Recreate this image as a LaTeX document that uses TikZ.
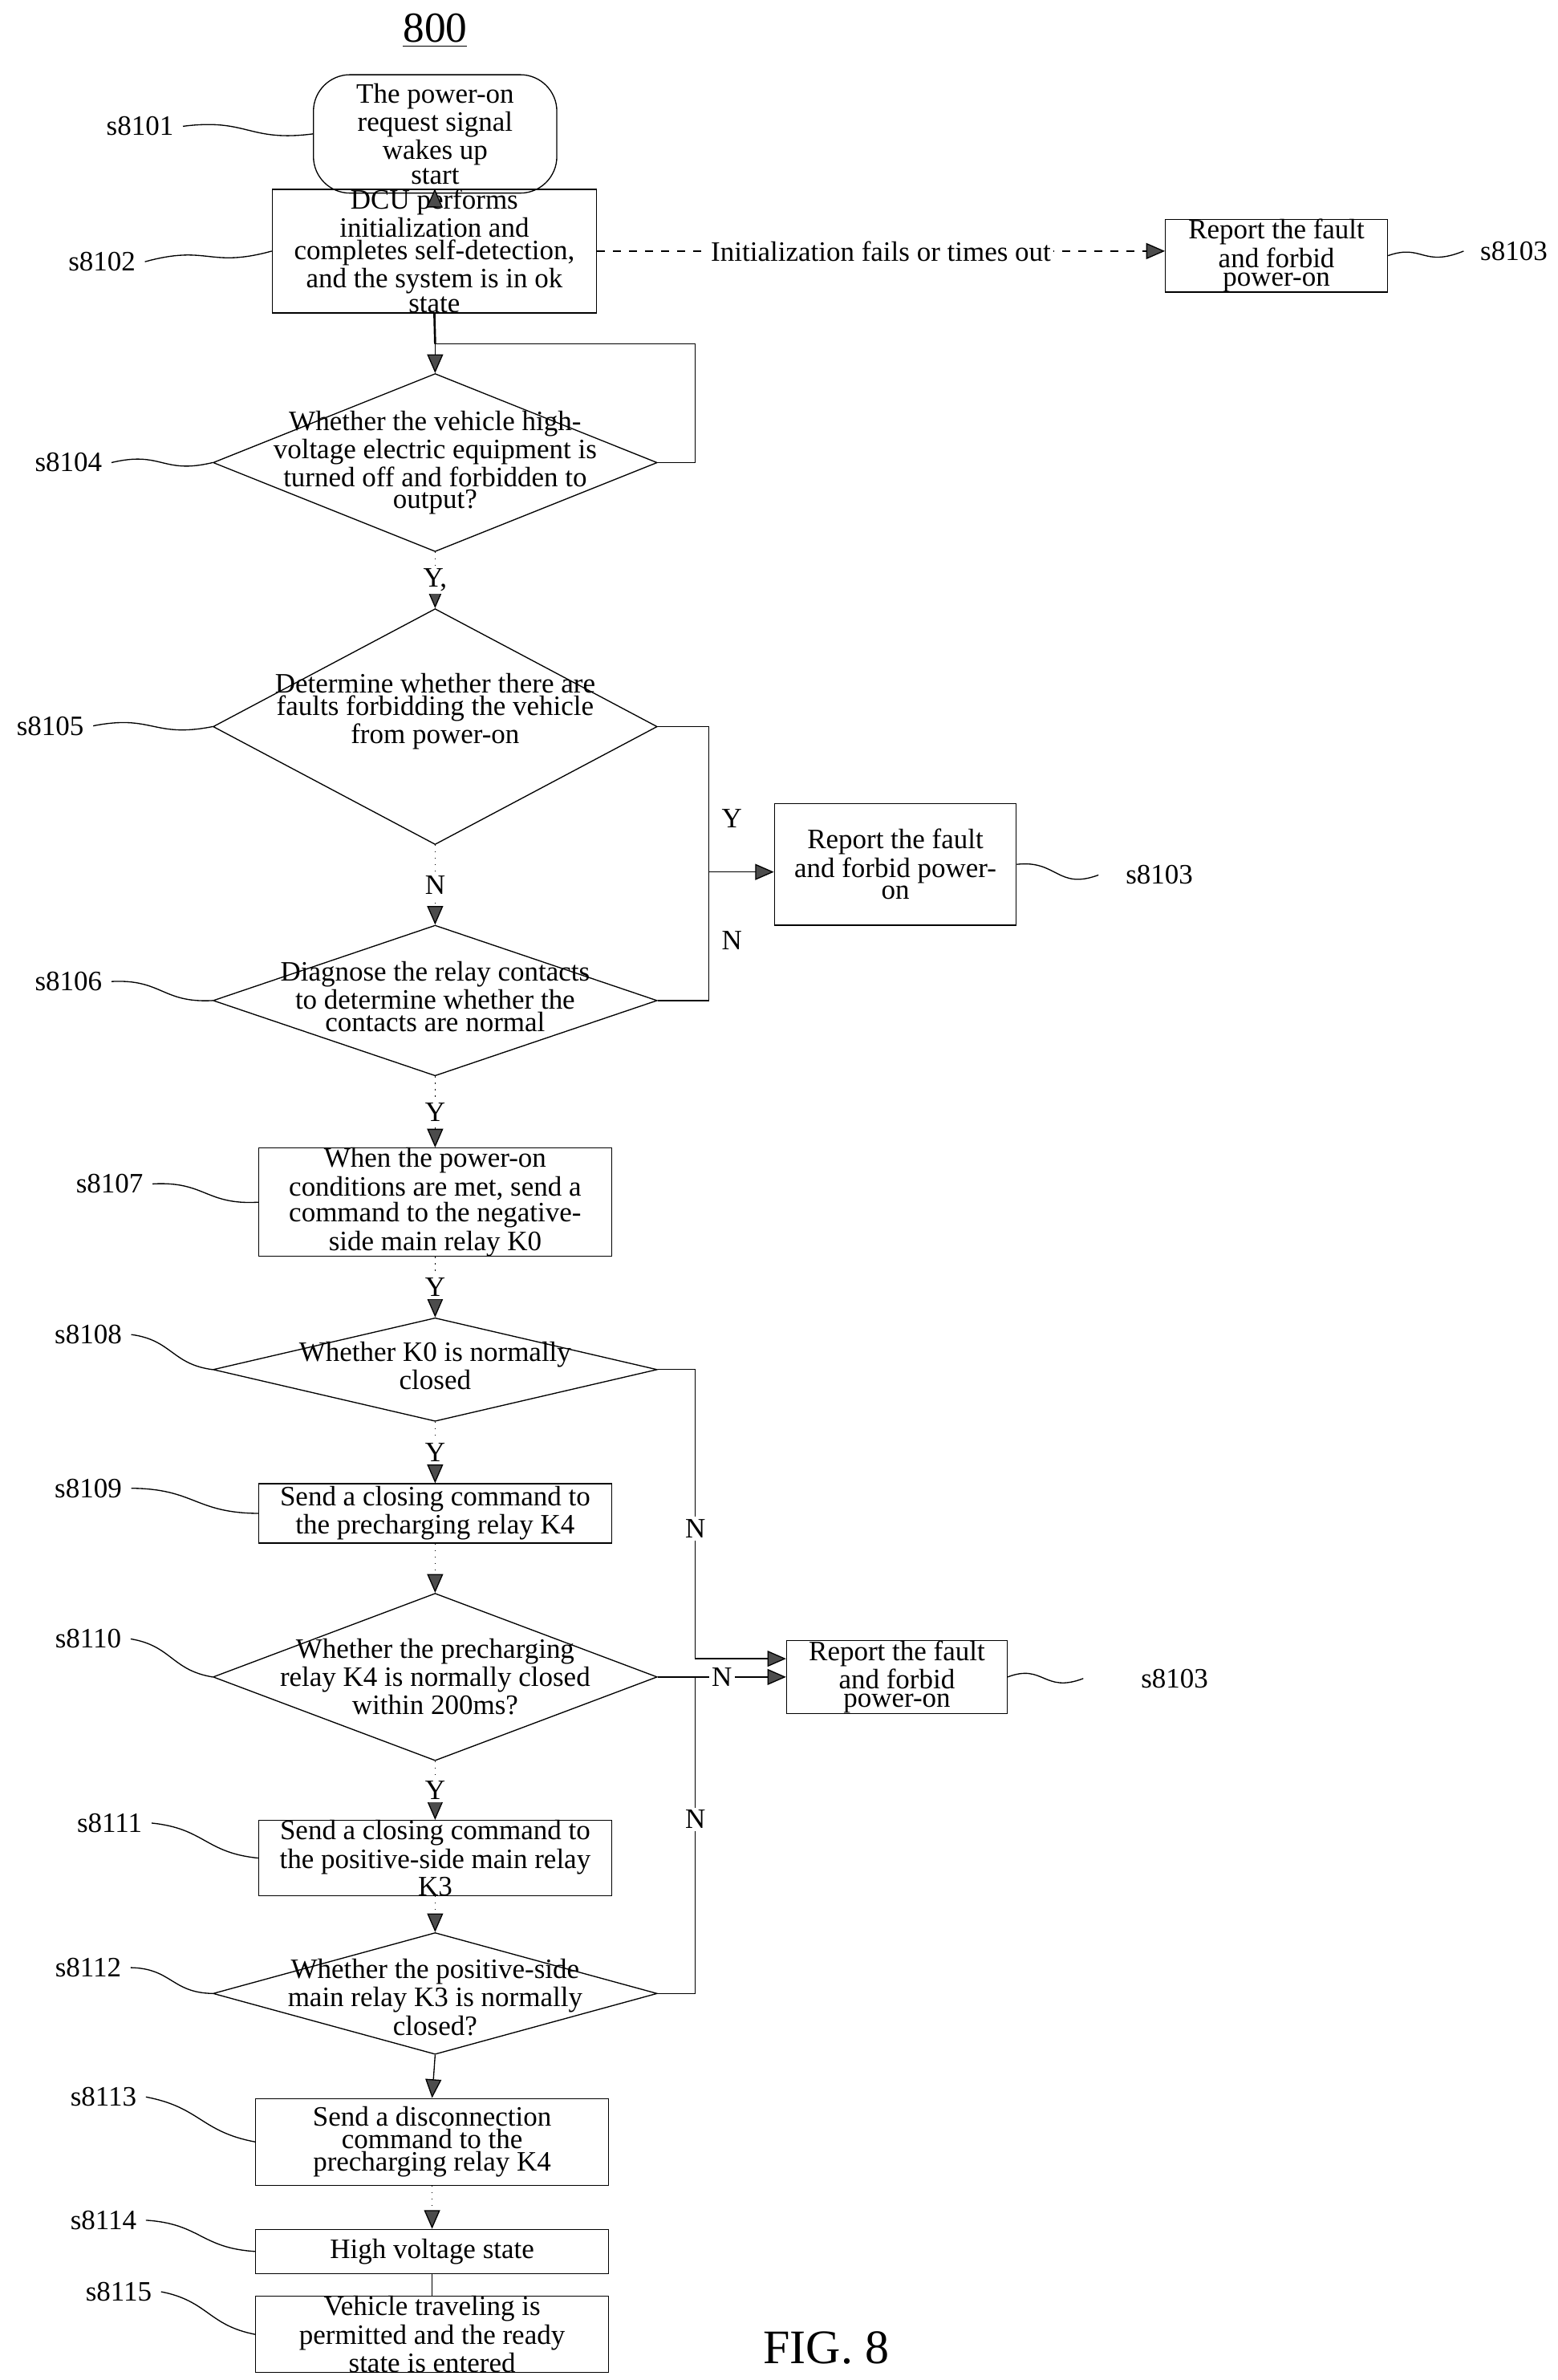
\documentclass[tikz,border=0pt]{standalone}
\usepackage{fontspec}
\setmainfont{Liberation Serif}
\usetikzlibrary{shapes.geometric,arrows.meta,calc}
\begin{document}
\begin{tikzpicture}[x=0.02cm,y=-0.02cm,
  every node/.style={font=\fontsize{10.5}{7}\selectfont},
  box/.style={draw,rectangle,inner sep=0pt,align=center},
  dia/.style={draw,diamond,inner sep=0pt},
  tip/.style={-{Triangle[length=7pt,width=6pt,fill=black!70]}},
  dl/.style={dotted,tip},
  sq/.style={thin},
  lab/.style={anchor=center}]
\useasboundingbox (0,0) rectangle (1024,1564);
\node[font=\fontsize{16}{18}\selectfont] (t) at (286,20) {\underline{800}};
\node[font=\fontsize{18}{20}\selectfont] (fig) at (543,1543) {FIG. 8};
% nodes
\node[draw,rectangle,rounded corners=24*0.02cm,minimum width=3.2cm,minimum height=0.96cm,align=center] (n1) at (286,88) {The power-on\\request signal\\wakes up\\start};
\node[box,minimum width=4.26cm,minimum height=1.4cm] (n2) at (285.5,165) {DCU performs\\initialization and\\completes self-detection,\\and the system is in ok\\state};
\node[box,minimum width=2.92cm,minimum height=0.8cm] (n3a) at (839,168) {Report the fault\\and forbid\\power-on};
\node[dia,minimum width=5.84cm,minimum height=2.34cm,label={[align=center]center:Whether the vehicle high-\\voltage electric equipment is\\turned off and forbidden to\\output?}] (n4) at (286,304) {};
\node[dia,minimum width=5.84cm,minimum height=3.1cm,label={[align=center,yshift=0.2cm]center:Determine whether there are\\faults forbidding the vehicle\\from power-on}] (n5) at (286,477.5) {};
\node[dia,minimum width=5.84cm,minimum height=1.98cm,label={[align=center,yshift=0.05cm]center:Diagnose the relay contacts\\to determine whether the\\contacts are normal}] (n6) at (286,657.5) {};
\node[box,minimum width=3.18cm,minimum height=1.6cm] (n3b) at (588.5,568) {Report the fault\\and forbid power-\\on};
\node[box,minimum width=4.64cm,minimum height=1.2cm] (n7) at (286,790) {When the power-on\\conditions are met, send a\\command to the negative-\\side main relay K0};
\node[dia,minimum width=5.84cm,minimum height=1.36cm,label={[align=center,yshift=0.05cm]center:Whether K0 is normally\\closed}] (n8) at (286,900) {};
\node[box,minimum width=4.64cm,minimum height=0.78cm] (n9) at (286,994.5) {Send a closing command to\\the precharging relay K4};
\node[dia,minimum width=5.84cm,minimum height=2.2cm,label={[align=center]center:Whether the precharging\\relay K4 is normally closed\\within 200ms?}] (n10) at (286,1102) {};
\node[box,minimum width=2.9cm,minimum height=0.96cm] (n3c) at (589.5,1102) {Report the fault\\and forbid\\power-on};
\node[box,minimum width=4.64cm,minimum height=0.84cm] (n11) at (286,1221) {Send a closing command to\\the positive-side main relay\\K3};
\node[dia,minimum width=5.84cm,minimum height=1.6cm,label={[align=center,yshift=-0.05cm]center:Whether the positive-side\\main relay K3 is normally\\closed?}] (n12) at (286,1310) {};
\node[box,minimum width=4.64cm,minimum height=1.14cm] (n13) at (284,1407.5) {Send a disconnection\\command to the\\precharging relay K4};
\node[box,minimum width=4.64cm,minimum height=0.58cm] (n14) at (284,1479.5) {High voltage state};
\node[box,minimum width=4.64cm,minimum height=0.92cm] (n15) at (284,1534) {Vehicle traveling is\\permitted and the ready\\state is entered};
% step labels
\node (l1) at (92,83) {s8101};
\node (l2) at (67,172) {s8102};
\node (l3a) at (995,165) {s8103};
\node (l4) at (45,304) {s8104};
\node (l5) at (33,477) {s8105};
\node (l6) at (45,645) {s8106};
\node (l3b) at (762,575) {s8103};
\node (l7) at (72,778) {s8107};
\node (l8) at (58,877) {s8108};
\node (l9) at (58,978) {s8109};
\node (l10) at (58,1077) {s8110};
\node (l3c) at (772,1103) {s8103};
\node (l11) at (72,1198) {s8111};
\node (l12) at (58,1293) {s8112};
\node (l13) at (68,1378) {s8113};
\node (l14) at (68,1459) {s8114};
\node (l15) at (78,1506) {s8115};
% squiggles
\foreach \a/\b in {l1/n1,l2/n2,l4/n4,l5/n5,l6/n6,l7/n7,l8/n8,l9/n9,l10/n10,l11/n11,l12/n12,l13/n13,l14/n14,l15/n15}{
  \draw[sq] (\a.east) .. controls ($(\a.east)!0.5!(\b.west)+(0,-8)$) and ($(\a.east)!0.5!(\b.west)+(0,8)$) .. (\b.west);
}
\draw[sq] (n3a.east) .. controls (935,160) and (935,176) .. (962,165);
\draw[sq] (n3b.east) .. controls (695,565) and (695,585) .. (722,575);
\draw[sq] (n3c.east) .. controls (686,1093) and (686,1113) .. (712,1103);
% connectors
\draw[tip] (n1) -- (n2);
\draw[dashed,tip] (n2.east) -- node[fill=white,inner sep=1pt]{Initialization fails or times out} (n3a.west|-n2.east);
\draw[thick] (n2.south) -- (286,226);
\draw[tip] (286,226) -- (n4.north);
\draw (n4.east) -- (457,304) -- (457,226) -- (286,226);
\draw[dl] (n4.south) -- node[fill=white,inner sep=1pt]{Y,} (n5.north);
\draw[dl] (n5.south) -- node[fill=white,inner sep=1pt]{N} (n6.north);
\draw (n5.east) -- (466,477.5) -- (466,657.5) -- (n6.east);
\draw[tip] (466,573) -- (n3b.west|-466,573);
\node (yb) at (481,538) {Y};
\node (nb) at (481,618) {N};
\draw[dl] (n6.south) -- node[fill=white,inner sep=1pt]{Y} (n7.north);
\draw[dl] (n7.south) -- node[fill=white,inner sep=1pt]{Y} (n8.north);
\draw[dl] (n8.south) -- node[fill=white,inner sep=1pt]{Y} (n9.north);
\draw[dl] (n9.south) -- (n10.north);
\draw[dl] (n10.south) -- node[fill=white,inner sep=1pt]{Y} (n11.north);
\draw[dl] (n11.south) -- (n12.north);
\draw[tip] (n12.south) -- (n13.north);
\draw[dl] (n13.south) -- (n14.north);
\draw (n14.south) -- (n15.north);
\draw[tip] (n8.east) -- (457,900) -- node[fill=white,inner sep=1pt,pos=0.55]{N} (457,1090) -- (n3c.west|-457,1090);
\draw[tip] (n10.east) -- node[fill=white,inner sep=1pt,pos=0.5]{N} (n3c.west);
\draw (n12.east) -- (457,1310) -- node[fill=white,inner sep=1pt,pos=0.55]{N} (457,1102);
\end{tikzpicture}
\end{document}
